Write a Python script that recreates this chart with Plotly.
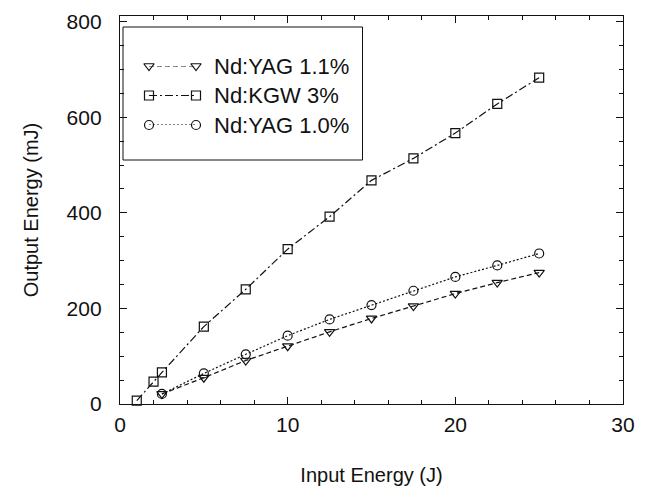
import plotly.graph_objects as go

# ---- data ----
x_kgw = [1, 2, 2.5, 5, 7.5, 10, 12.5, 15, 17.5, 20, 22.5, 25]
y_kgw = [7, 47, 66, 162, 240, 324, 392, 468, 514, 567, 628, 683]

x_yag = [2.5, 5, 7.5, 10, 12.5, 15, 17.5, 20, 22.5, 25]
y_yag11 = [21, 55, 91, 121, 151, 179, 205, 231, 254, 275]
y_yag10 = [21, 64, 104, 143, 177, 207, 237, 266, 290, 315]

series_names = ["Nd:YAG 1.1%", "Nd:KGW 3%", "Nd:YAG 1.0%"]
x_ticks = [0, 10, 20, 30]
y_ticks = [0, 200, 400, 600, 800]

# ---- styles ----
INK = "#111111"
FONT = "Liberation Sans, Arial, Helvetica, sans-serif"
styles = [
    dict(symbol="triangle-down-open", dash="5px,3px"),
    dict(symbol="square-open", dash="8px,3px,2px,3px"),
    dict(symbol="circle-open", dash="2px,2px"),
]
series = [(x_yag, y_yag11), (x_kgw, y_kgw), (x_yag, y_yag10)]

fig = go.Figure()
for (xs, ys), name, st in zip(series, series_names, styles):
    fig.add_trace(go.Scatter(
        x=xs, y=ys, name=name, mode="lines+markers",
        line=dict(color=INK, width=1.2, dash=st["dash"]),
        marker=dict(symbol=st["symbol"], size=9, color=INK,
                    line=dict(color=INK, width=1.2)),
        showlegend=False, cliponaxis=False,
    ))

# ---- custom legend (samples drawn on an overlay axis) ----
legend_rows = [1.0, 0.5, 0.0]
for row, name, st in zip(legend_rows, series_names, styles):
    fig.add_trace(go.Scatter(
        x=[0, 1], y=[row, row], mode="lines+markers",
        xaxis="x2", yaxis="y2", hoverinfo="skip",
        line=dict(color=INK, width=1.2, dash=st["dash"]),
        marker=dict(symbol=st["symbol"], size=9, color=INK,
                    line=dict(color=INK, width=1.2)),
        showlegend=False, cliponaxis=False,
    ))

W, H = 646, 490
L, R, T, B = 120, 23, 16, 86
pw, ph = W - L - R, H - T - B

def px_x(p):
    return (p - L) / pw

def px_y(p):
    return (H - B - p) / ph

row_px = [66, 95.7, 125]
annotations = []
for rp, name in zip(row_px, series_names):
    annotations.append(dict(
        x=px_x(212), y=px_y(rp), xref="paper", yref="paper",
        text=name, showarrow=False, xanchor="left", yanchor="middle",
        font=dict(size=22, color=INK, family=FONT),
    ))

shapes = [dict(
    type="rect", xref="paper", yref="paper",
    x0=px_x(123), x1=px_x(362.5), y0=px_y(160), y1=px_y(27),
    line=dict(color=INK, width=1), fillcolor="rgba(0,0,0,0)",
)]

axis_common = dict(
    showline=True, linecolor=INK, linewidth=1.3, mirror="ticks",
    ticks="inside", ticklen=7, tickwidth=1, tickcolor=INK,
    showgrid=False, zeroline=False, automargin=False,
    tickfont=dict(size=21, color=INK, family=FONT),
    title_font=dict(size=20, color=INK, family=FONT),
)

fig.update_layout(
    width=W, height=H,
    margin=dict(l=L, r=R, t=T, b=B, autoexpand=False),
    paper_bgcolor="white", plot_bgcolor="white",
    font=dict(family=FONT, color=INK),
    xaxis=dict(
        range=[0, 30], tickvals=x_ticks,
        minor=dict(dtick=2, ticks="inside", ticklen=4, tickcolor=INK),
        title=dict(text="Input Energy (J)", standoff=32),
        ticklabelstandoff=2,
        **axis_common,
    ),
    yaxis=dict(
        range=[0, 812], tickvals=y_ticks,
        minor=dict(dtick=50, ticks="inside", ticklen=4, tickcolor=INK),
        title=dict(text="Output Energy (mJ)", standoff=22),
        ticklabelstandoff=13,
        **axis_common,
    ),
    xaxis2=dict(domain=[px_x(149), px_x(196)], range=[0, 1], visible=False,
                anchor="y2"),
    yaxis2=dict(domain=[px_y(125), px_y(66)], range=[0, 1], visible=False,
                anchor="x2"),
    annotations=annotations,
    shapes=shapes,
)

fig.write_html("out.html")
